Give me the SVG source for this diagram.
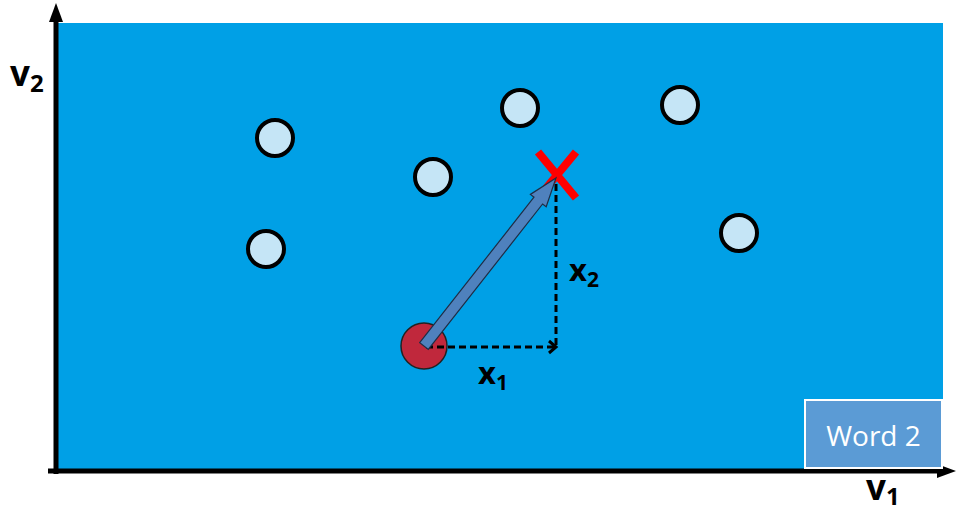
<svg xmlns="http://www.w3.org/2000/svg" width="956" height="514" viewBox="0 0 956 514">
<style>
.pt{fill:#c5e5f6;stroke:#000;stroke-width:4}
.lbl{font-family:"Open Sans","Liberation Sans",sans-serif;font-weight:bold;fill:#000}
.dash{stroke:#000;stroke-width:3;stroke-dasharray:7,4;fill:none}
</style>
<defs>
<marker id="ah" markerWidth="14" markerHeight="16" refX="10" refY="8" orient="auto" markerUnits="userSpaceOnUse">
<path d="M3,2 L10,8 L3,14" fill="none" stroke="#000" stroke-width="3"/>
</marker>
</defs>
<rect width="956" height="514" fill="#fff"/>
<rect x="58" y="23" width="885" height="448" fill="#00a0e6"/>
<g id="axes">
<line x1="56" y1="20" x2="56" y2="474" stroke="#000" stroke-width="5"/>
<polygon points="56,3 49,22 63,22" fill="#000"/>
<line x1="48" y1="471" x2="940" y2="471" stroke="#000" stroke-width="5"/>
<polygon points="956,471 937,464 937,478" fill="#000"/>
</g>
<g id="points">
<circle id="p1" class="pt" cx="275" cy="138" r="18"/>
<circle id="p2" class="pt" cx="433" cy="177" r="18"/>
<circle id="p3" class="pt" cx="520" cy="108" r="18"/>
<circle id="p4" class="pt" cx="680" cy="105" r="18"/>
<circle id="p5" class="pt" cx="266" cy="249" r="18"/>
<circle id="p6" class="pt" cx="739" cy="233" r="18"/>
</g>
<g id="origin">
<circle cx="424" cy="346" r="23" fill="#c0283c" stroke="#222" stroke-width="1.5"/>
</g>
<g id="target">
<path d="M538,152 L576,198 M576,152 L538,198" stroke="#ff0000" stroke-width="8" fill="none"/>
</g>
<g id="connectors">
<line class="dash" x1="426" y1="347" x2="556" y2="347" marker-end="url(#ah)"/>
<line class="dash" x1="556" y1="345" x2="556" y2="180"/>
<polygon points="419.7,342.6 534,197.2 530.4,194.4 556,178 546.2,206.8 542.6,204 428.3,349.4" fill="#4f81bd" stroke="#1f2d45" stroke-width="1.2" stroke-linejoin="miter"/>
</g>
<g id="labels">
<text class="lbl" x="10" y="86" font-size="35">v<tspan font-size="24" dy="6">2</tspan></text>
<text class="lbl" x="569" y="281" font-size="31">x<tspan font-size="21" dy="6">2</tspan></text>
<text class="lbl" x="478" y="384" font-size="31">x<tspan font-size="21" dy="6">1</tspan></text>
<text class="lbl" x="866" y="500" font-size="35">v<tspan font-size="24" dy="5">1</tspan></text>
</g>
<g id="word2">
<rect x="805" y="400" width="137" height="68" fill="#5b9bd5" stroke="#fff" stroke-width="2"/>
<text x="873.5" y="446" font-family="Open Sans, Liberation Sans, sans-serif" font-size="28" fill="#fff" text-anchor="middle">Word 2</text>
</g>
</svg>
